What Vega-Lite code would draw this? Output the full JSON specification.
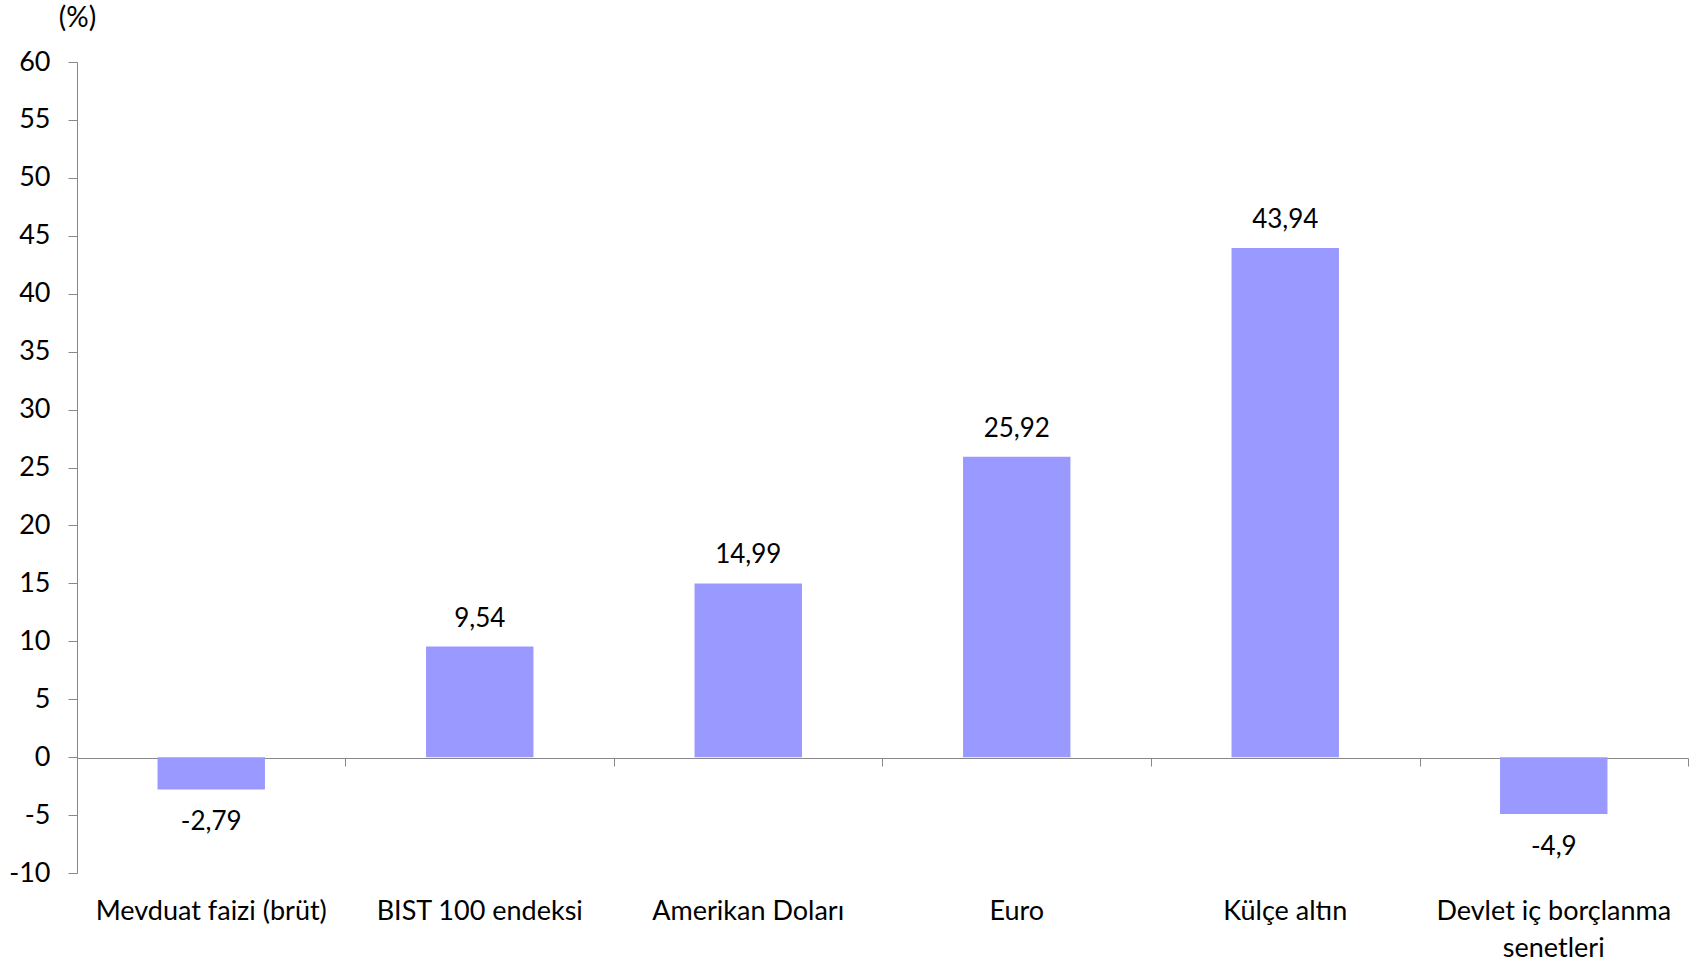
{
  "$schema": "https://vega.github.io/schema/vega-lite/v6.json",
  "width": 1611,
  "height": 811,
  "autosize": {"type": "none"},
  "padding": {"left": 77, "top": 62, "right": 6, "bottom": 90},
  "config": {
    "view": {"stroke": null},
    "font": "Lato",
    "locale": {"number": {"decimal": ",", "thousands": ".", "grouping": [3], "currency": ["", ""], "minus": "-"}}
  },
  "data": {
    "values": [
      {"kategori": "Mevduat faizi (brüt)", "deger": -2.79},
      {"kategori": "BIST 100 endeksi", "deger": 9.54},
      {"kategori": "Amerikan Doları", "deger": 14.99},
      {"kategori": "Euro", "deger": 25.92},
      {"kategori": "Külçe altın", "deger": 43.94},
      {"kategori": "Devlet iç borçlanma senetleri", "deger": -4.9}
    ]
  },
  "encoding": {
    "y": {
      "field": "deger",
      "type": "quantitative",
      "scale": {"domain": [-10, 60], "nice": false, "zero": false},
      "axis": {
        "values": [-10, -5, 0, 5, 10, 15, 20, 25, 30, 35, 40, 45, 50, 55, 60],
        "grid": false,
        "domainColor": "#888888",
        "tickColor": "#888888",
        "tickSize": 9,
        "labelPadding": 18,
        "labelFontSize": 27,
        "labelColor": "#000000",
        "title": "(%)",
        "titleAngle": 0,
        "titleX": 0,
        "titleY": -44,
        "titleAlign": "center",
        "titleBaseline": "middle",
        "titleFontSize": 28,
        "titleFontWeight": "normal",
        "titleColor": "#000000"
      }
    }
  },
  "layer": [
    {
      "mark": {"type": "bar", "color": "#9999FF"},
      "encoding": {
        "x": {
          "field": "kategori",
          "type": "nominal",
          "sort": null,
          "scale": {"paddingInner": 0.6, "paddingOuter": 0.3},
          "axis": {
            "orient": "bottom",
            "offset": -115,
            "title": null,
            "labels": false,
            "domainColor": "#888888",
            "tickColor": "#888888",
            "tickSize": 8,
            "bandPosition": 1,
            "tickOffset": 80.55
          }
        }
      }
    },
    {
      "transform": [{"filter": "datum.deger >= 0"}],
      "mark": {"type": "text", "dy": -28, "fontSize": 26, "color": "#000000", "baseline": "middle"},
      "encoding": {
        "x": {
          "field": "kategori",
          "type": "nominal",
          "sort": null,
          "axis": {
            "orient": "bottom",
            "title": null,
            "domain": false,
            "ticks": false,
            "labelAngle": 0,
            "labelFontSize": 27,
            "labelColor": "#000000",
            "labelPadding": 25,
            "labelLimit": 0,
            "labelBaseline": "top",
            "labelLineHeight": 37,
            "labelExpr": "datum.label == 'Devlet iç borçlanma senetleri' ? ['Devlet iç borçlanma', 'senetleri'] : datum.label"
          }
        },
        "text": {"field": "deger", "type": "quantitative", "format": ".4~r"}
      }
    },
    {
      "transform": [{"filter": "datum.deger < 0"}],
      "mark": {"type": "text", "dy": 33, "fontSize": 26, "color": "#000000", "baseline": "middle"},
      "encoding": {
        "x": {"field": "kategori", "type": "nominal", "sort": null, "axis": null},
        "text": {"field": "deger", "type": "quantitative", "format": ".4~r"}
      }
    }
  ],
  "resolve": {"axis": {"x": "independent"}}
}
